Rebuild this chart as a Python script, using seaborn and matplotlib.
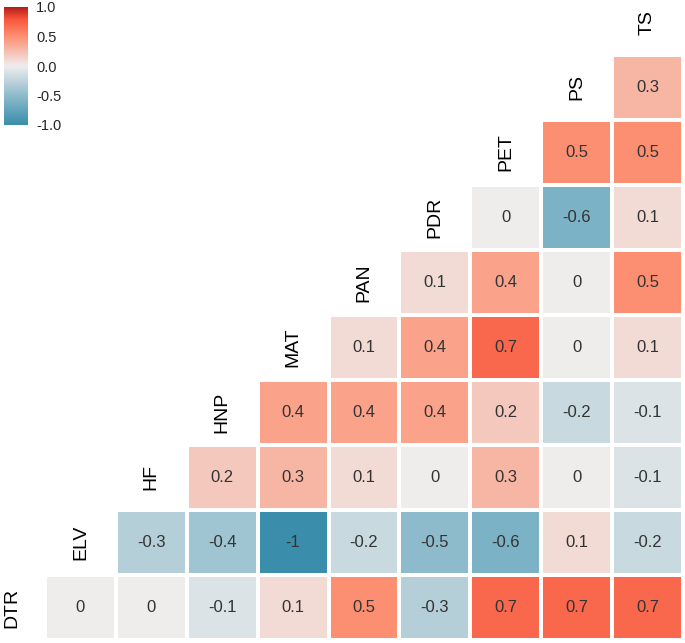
import numpy as np
import pandas as pd
import matplotlib
matplotlib.use("Agg")
import matplotlib.pyplot as plt
import seaborn as sns
from matplotlib.colors import LinearSegmentedColormap

sns.set_style("white")
plt.rcParams['font.family'] = ['Liberation Sans', 'DejaVu Sans']

# variables in plotting order (bottom row first)
variables = ["DTR", "ELV", "HF", "HNP", "MAT", "PAN", "PDR", "PET", "PS", "TS"]

# correlations of each variable with the ones after it
r_DTR = [0, 0, -0.1, 0.1, 0.5, -0.3, 0.7, 0.7, 0.7]
r_ELV = [-0.3, -0.4, -1, -0.2, -0.5, -0.6, 0.1, -0.2]
r_HF = [0.2, 0.3, 0.1, 0, 0.3, 0, -0.1]
r_HNP = [0.4, 0.4, 0.4, 0.2, -0.2, -0.1]
r_MAT = [0.1, 0.4, 0.7, 0, 0.1]
r_PAN = [0.1, 0.4, 0, 0.5]
r_PDR = [0, -0.6, 0.1]
r_PET = [0.5, 0.5]
r_PS = [0.3]

rows = [r_DTR, r_ELV, r_HF, r_HNP, r_MAT, r_PAN, r_PDR, r_PET, r_PS]
row_names = variables[:-1]
col_names = variables[1:]

n = len(row_names)
mat = np.full((n, n), np.nan)
for i, vals in enumerate(rows):
    for k, v in enumerate(vals):
        mat[i, i + k] = v

# top row of the picture = last variable
df = pd.DataFrame(mat[::-1], index=row_names[::-1], columns=col_names)
labels = df.map(lambda v: "" if pd.isna(v) else f"{v:g}")

cmap = LinearSegmentedColormap.from_list("corr", [
    (0.0, "#3a8dab"),
    (0.25, "#8dbbcb"),
    (0.5, "#efeded"),
    (0.75, "#fc9073"),
    (0.9, "#f8553a"),
    (1.0, "#b31b1b"),
])

fig = plt.figure(figsize=(6.85, 6.43), dpi=100)
ax = fig.add_axes([45 / 685, 3 / 643, 638 / 685, 585 / 643])
sns.heatmap(df, mask=df.isna(), cmap=cmap, vmin=-1, vmax=1, annot=labels, fmt="",
            annot_kws={"size": 12, "color": "#333333"}, linewidths=1.5,
            linecolor="white", cbar=False, ax=ax)
ax.set_xticks([])
ax.set_yticks([])
ax.set_xlabel("")
ax.set_ylabel("")

# variable names on the diagonal
for k in range(1, len(variables)):
    ax.text(k - 1 + 0.5, n - 1 - k + 0.5, variables[k], rotation=90, ha="center",
            va="center", fontsize=14, color="black", clip_on=False)
ax.text(-0.47, n - 0.5, variables[0], rotation=90, ha="center", va="center",
        fontsize=14, color="black", clip_on=False)

cax = fig.add_axes([4 / 685, (643 - 125) / 643, 24 / 685, 118 / 643])
cb = fig.colorbar(ax.collections[0], cax=cax, ticks=[-1, -0.5, 0, 0.5, 1])
cb.outline.set_visible(False)
cb.ax.set_yticklabels(["-1.0", "-0.5", "0.0", "0.5", "1.0"])
cb.ax.tick_params(direction="in", color="white", length=5, width=1,
                  left=True, right=True, labelsize=10.5, pad=6)

fig.savefig("out.png", dpi=100)
